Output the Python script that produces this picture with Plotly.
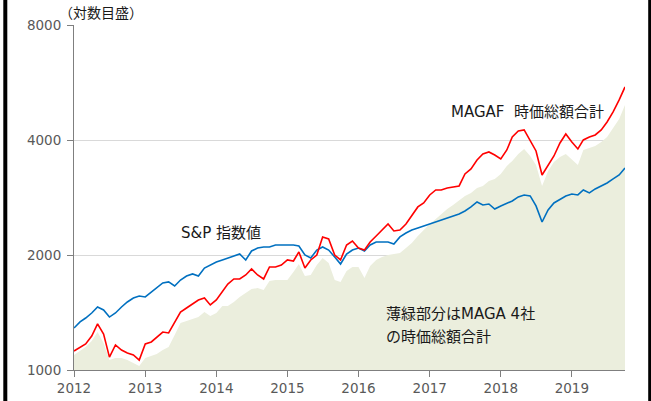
import pandas as pd
import plotly.graph_objects as go

# Monthly readings, Jan 2012 .. Oct 2019 (x positions as labelled on the chart)
months = pd.date_range(start="2012-01-01", periods=94, freq="MS")

# MAGAF total market cap (red line)
magaf = [1121, 1149, 1170, 1227, 1320, 1242, 1081, 1163, 1128, 1108,
         1095, 1062, 1170, 1184, 1220, 1257, 1250, 1336, 1418, 1453,
         1489, 1525, 1543, 1480, 1525, 1610, 1679, 1731, 1731, 1773,
         1838, 1773, 1731, 1861, 1861, 1883, 1941, 1929, 2037, 1849,
         1941, 2000, 2230, 2203, 2000, 1941, 2124, 2176, 2086, 2061,
         2163, 2243, 2326, 2411, 2312, 2326, 2411, 2546, 2672, 2737,
         2872, 2960, 2960, 2996, 3014, 3032, 3259, 3359, 3546, 3677,
         3722, 3655, 3568, 3767, 4074, 4224, 4250, 3977, 3744, 3240,
         3421, 3633, 3929, 4148, 3953, 3790, 4001, 4074, 4123, 4250,
         4460, 4737, 5092, 5507]

# S&P index (blue line)
sp = [1288, 1336, 1368, 1410, 1462, 1436, 1376, 1410, 1462, 1507,
      1543, 1562, 1553, 1600, 1649, 1690, 1700, 1659, 1720, 1762,
      1784, 1762, 1849, 1883, 1917, 1941, 1964, 1988, 2012, 1941,
      2049, 2086, 2099, 2099, 2124, 2124, 2124, 2124, 2112, 2000,
      1964, 2061, 2099, 2061, 1976, 1894, 2012, 2061, 2086, 2049,
      2124, 2163, 2163, 2163, 2137, 2230, 2284, 2326, 2354, 2382,
      2411, 2440, 2470, 2500, 2530, 2561, 2608, 2672, 2753, 2704,
      2720, 2639, 2688, 2737, 2770, 2838, 2872, 2855, 2688, 2440,
      2624, 2737, 2803, 2855, 2889, 2872, 2960, 2907, 2978, 3032,
      3087, 3163, 3240, 3380]

# MAGA 4 companies total market cap (light green area)
maga = [1095, 1121, 1149, 1191, 1257, 1177, 1062, 1075, 1075, 1062,
        1043, 1024, 1075, 1088, 1101, 1128, 1149, 1235, 1328, 1344,
        1360, 1376, 1418, 1385, 1410, 1471, 1471, 1507, 1553, 1591,
        1629, 1639, 1620, 1710, 1720, 1720, 1720, 1805, 1894, 1762,
        1773, 1883, 1964, 1906, 1720, 1700, 1816, 1861, 1861, 1741,
        1872, 1941, 1976, 2000, 2012, 2024, 2086, 2150, 2243, 2326,
        2411, 2485, 2561, 2639, 2704, 2787, 2855, 2907, 2996, 3032,
        3125, 3163, 3259, 3421, 3525, 3677, 3790, 3633, 3441, 3032,
        3319, 3504, 3611, 3677, 3546, 3441, 3767, 3813, 3859, 3953,
        4074, 4301, 4541, 4941]

year_ticks = ["2012-01-01", "2013-01-01", "2014-01-01", "2015-01-01",
              "2016-01-01", "2017-01-01", "2018-01-01", "2019-01-01"]
year_labels = ["2012", "2013", "2014", "2015", "2016", "2017", "2018", "2019"]
y_ticks = [1000, 2000, 4000, 8000]
y_labels = ["1000", "2000", "4000", "8000"]

LAT = "DejaVu Sans, Noto Sans CJK JP, sans-serif"

fig = go.Figure()
fig.add_trace(go.Scatter(x=months, y=maga, mode="lines", fill="tozeroy",
                         fillcolor="#EBEEDD", line=dict(width=0, color="#EBEEDD"),
                         hoverinfo="skip"))
fig.add_trace(go.Scatter(x=months, y=sp, mode="lines",
                         line=dict(color="#0070C0", width=1.6)))
fig.add_trace(go.Scatter(x=months, y=magaf, mode="lines",
                         line=dict(color="#FF0000", width=1.6)))

fig.update_layout(
    width=651, height=401,
    margin=dict(l=74, r=26, t=25, b=31, pad=0),
    paper_bgcolor="white", plot_bgcolor="white",
    showlegend=False,
    font=dict(family=LAT, color="#595959"),
)
fig.update_xaxes(
    type="date", range=["2012-01-01", "2019-10-01"],
    tickvals=year_ticks, ticktext=year_labels,
    showgrid=False, showline=True, linecolor="#7f7f7f", linewidth=1,
    ticks="outside", ticklen=6, tickcolor="#7f7f7f",
    tickfont=dict(family=LAT, size=13.5, color="#595959"),
    ticklabelstandoff=0,
    zeroline=False, automargin=False,
)
fig.update_yaxes(
    type="log", range=[3, 3.90309],
    tickvals=y_ticks, ticktext=y_labels,
    showgrid=True, gridcolor="#D9D9D9", gridwidth=1,
    showline=True, linecolor="#7f7f7f", linewidth=1,
    ticks="outside", ticklen=6, tickcolor="#7f7f7f",
    tickfont=dict(family=LAT, size=13.5, color="#595959"),
    ticklabelstandoff=3,
    zeroline=False, automargin=False,
)

def px_x(p):
    return (p - 74) / 551.0

def px_y(p):
    return (370 - p) / 345.0

ann_font = dict(family=LAT, size=15, color="#1a1a1a")
fig.add_annotation(text="（対数目盛）", xref="paper", yref="paper",
                   x=px_x(57), y=px_y(12), xanchor="left", yanchor="middle",
                   showarrow=False, font=dict(family="Noto Sans CJK JP", size=14, color="#1a1a1a"))
fig.add_annotation(text="MAGAF\u00a0\u00a0時価総額合計", xref="paper", yref="paper",
                   x=px_x(449), y=px_y(112), xanchor="left", yanchor="middle",
                   showarrow=False, font=ann_font)
fig.add_annotation(text="S&P 指数値", xref="paper", yref="paper",
                   x=px_x(179), y=px_y(233), xanchor="left", yanchor="middle",
                   showarrow=False, font=ann_font)
fig.add_annotation(text="薄緑部分はMAGA 4社", xref="paper", yref="paper",
                   x=px_x(384), y=px_y(314), xanchor="left", yanchor="middle",
                   showarrow=False, font=ann_font)
fig.add_annotation(text="の時価総額合計", xref="paper", yref="paper",
                   x=px_x(384), y=px_y(337), xanchor="left", yanchor="middle",
                   showarrow=False, font=ann_font)

# dark frame edges seen at the left and right of the picture
fig.add_shape(type="line", xref="paper", yref="paper",
              x0=px_x(5.3), x1=px_x(5.3), y0=px_y(401), y1=px_y(0),
              line=dict(color="black", width=4))
fig.add_shape(type="line", xref="paper", yref="paper",
              x0=px_x(649.7), x1=px_x(649.7), y0=px_y(401), y1=px_y(0),
              line=dict(color="black", width=3))

fig.write_html("out.html", config={"displayModeBar": False},
               post_script="document.body.style.margin='0';")
